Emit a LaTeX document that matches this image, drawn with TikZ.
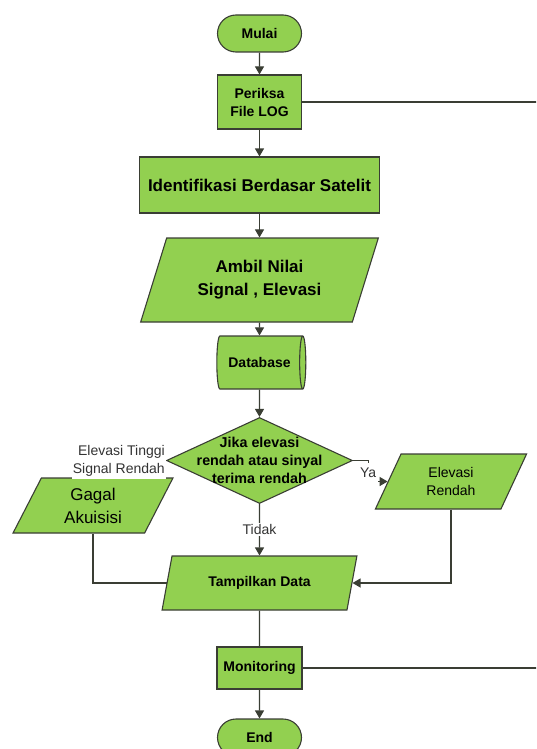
\documentclass[tikz,border=0pt]{standalone}
\usepackage{fontspec}
\setmainfont{Liberation Sans}
\usepackage{tikz}
\usetikzlibrary{shapes,arrows.meta,positioning,calc}
\definecolor{hijau}{RGB}{146,208,80}
\definecolor{garis}{RGB}{58,62,52}

\begin{document}
\begin{tikzpicture}[
    x=1pt, y=1pt,
    node distance=80pt,
    kotak/.style={
        draw=garis,
        fill=hijau,
        line width=1.1pt,
        inner sep=0pt,
        align=center
    },
    terminal/.style={
        kotak,
        rounded rectangle,
        minimum width=84pt,
        minimum height=37pt,
        font=\bfseries\fontsize{14}{18}\selectfont
    },
    proses/.style={
        kotak,
        rectangle,
        minimum width=84pt,
        minimum height=54pt,
        font=\bfseries\fontsize{14}{18}\selectfont
    },
    masukan/.style={
        kotak,
        trapezium,
        trapezium left angle=66,
        trapezium right angle=114,
        trapezium stretches=true,
        font=\fontsize{14}{18}\selectfont
    },
    basisdata/.style={
        kotak,
        cylinder,
        aspect=0.6,
        minimum width=53pt,
        minimum height=89pt,
        font=\bfseries\fontsize{14}{18}\selectfont
    },
    keputusan/.style={
        kotak,
        diamond,
        minimum width=186pt,
        minimum height=86pt
    },
    ket/.style={
        fill=white,
        inner sep=1.5pt,
        text=black!80,
        font=\fontsize{14}{18}\selectfont
    },
    line/.style={
        draw=garis,
        line width=1.1pt,
        -{Triangle[length=8pt,width=9pt]}
    },
    wire/.style={
        draw=garis,
        line width=1.1pt
    }
]
\useasboundingbox (0,0) rectangle (536,-749);
\clip (0,0) rectangle (536,-749);

% Nodes
\node [terminal] (mulai) at (259.5,-33.5) {Mulai};
\node [proses, below of=mulai, node distance=68.5pt] (periksa) {Periksa\\File LOG};
\node [proses, below of=periksa, node distance=83pt, minimum width=240pt, minimum height=56pt, font=\bfseries\fontsize{17}{21}\selectfont] (identifikasi) {Identifikasi Berdasar Satelit};
\node [masukan, below of=identifikasi, node distance=95pt, minimum width=238pt, minimum height=84pt, font=\bfseries\fontsize{17}{23}\selectfont] (ambil) {Ambil Nilai\\Signal , Elevasi};
\node [basisdata, below of=ambil, node distance=82.5pt] (database) {Database};
\node [keputusan, below of=database, node distance=98pt,
    label={[align=center, font=\bfseries\fontsize{14.3}{18}\selectfont]center:{Jika elevasi\\rendah atau sinyal\\terima rendah}}] (cek) {};
\node [masukan, below of=cek, node distance=122.5pt, minimum width=195pt, minimum height=54pt, font=\bfseries\fontsize{14}{18}\selectfont] (tampil) {Tampilkan Data};
\node [proses, below of=tampil, node distance=85pt, minimum width=85pt, minimum height=42pt] (monitor) {Monitoring};
\node [terminal, below of=monitor, node distance=69.5pt] (selesai) {End};
\node [masukan, minimum width=160pt, minimum height=55pt, font=\fontsize{17}{23}\selectfont] (gagal) at (93,-505.5) {Gagal\\Akuisisi};
\node [masukan, minimum width=152pt, minimum height=55pt] (rendah) at (451,-481.5) {Elevasi\\Rendah};
\coordinate (tepi) at (540,0);

% Edges
\path [line] (mulai) -- (periksa);
\path [line] (periksa) -- (identifikasi);
\path [line] (identifikasi) -- (ambil);
\path [line] (ambil) -- (database);
\path [line] (database) -- (cek);
\path [line] (cek) -- node [ket] {Tidak} (tampil);
\path [line] (cek.west) -| (gagal.north);
\node [ket, anchor=east, align=right, inner xsep=1pt, inner ysep=3pt] at (cek.west) {Elevasi Tinggi\\Signal Rendah};
\path [line] (cek.east) -- ++(15,0) |- node [ket, pos=0.25, minimum height=20pt, yshift=-2pt] {Ya} (rendah.west);
\path [line] (rendah.south) |- (tampil.east);
\path [wire] (gagal.south) |- (tampil.west);
\path [wire] (tampil) -- (monitor);
\path [line] (monitor) -- (selesai);
\path [wire] (periksa.east) -- (periksa.east -| tepi);
\path [wire] (monitor.east) -- (monitor.east -| tepi);

\end{tikzpicture}
\end{document}
